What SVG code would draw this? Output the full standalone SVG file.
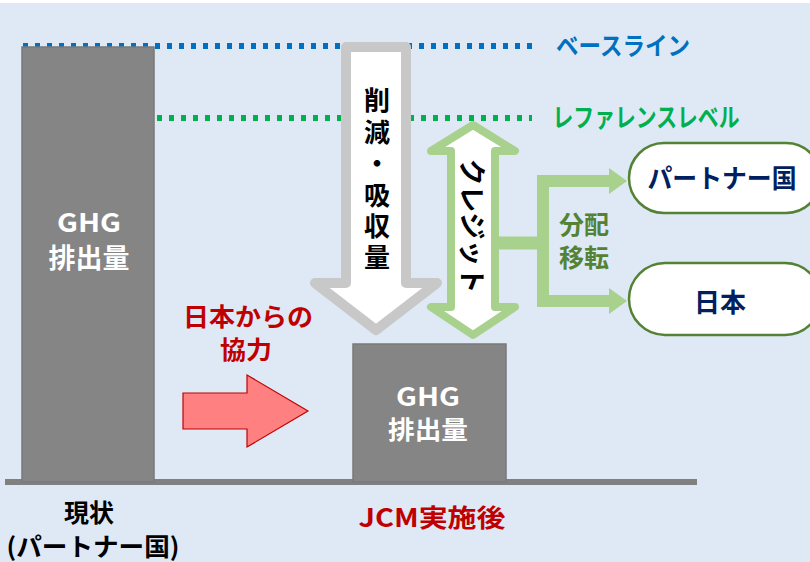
<svg xmlns="http://www.w3.org/2000/svg" width="810" height="562" viewBox="0 0 810 562">
<style>
text{font-family:"Noto Sans CJK JP","Noto Sans",sans-serif;font-weight:bold;text-anchor:middle}
.bar{fill:#858585;stroke:#7a7a7a;stroke-width:1.5}
.white{fill:#ffffff}
.red{fill:#c00000}
.blk{fill:#000000}
.navy{fill:#002060}
.dgreen{fill:#548235}
.conn{fill:none;stroke:#a9d18e}
.head{fill:#a9d18e}
.node{fill:#ffffff;stroke:#548235;stroke-width:2.5}
</style>
<rect x="0" y="0" width="810" height="562" fill="#ffffff"/>
<rect x="0" y="3" width="810" height="559" fill="#dee9f5"/>
<g id="levels">
<line x1="23" y1="46" x2="532" y2="46" stroke="#0070c0" stroke-width="6" stroke-dasharray="5 7"/>
<line x1="157" y1="118" x2="532" y2="118" stroke="#00b050" stroke-width="6" stroke-dasharray="5 7"/>
<text x="623" y="55" font-size="25" fill="#0070c0" textLength="134" lengthAdjust="spacingAndGlyphs">ベースライン</text>
<text x="646" y="127" font-size="26" fill="#00b050" textLength="187" lengthAdjust="spacingAndGlyphs">レファレンスレベル</text>
</g>
<g id="ground"><rect x="5" y="479" width="692" height="6" fill="#808080"/></g>
<g id="bar-current">
<rect class="bar" x="22" y="47" width="132" height="435"/>
<text class="white" x="89" y="232" font-size="26" textLength="64" lengthAdjust="spacingAndGlyphs">GHG</text>
<text class="white" x="89" y="268" font-size="27">排出量</text>
</g>
<g id="bar-after">
<rect class="bar" x="353" y="344" width="153" height="138"/>
<text class="white" font-size="25"><tspan x="428" y="406" textLength="64" lengthAdjust="spacingAndGlyphs">GHG</tspan><tspan x="428" y="439" textLength="80" lengthAdjust="spacingAndGlyphs">排出量</tspan></text>
</g>
<g id="reduction-arrow">
<path d="M346,47 L406,47 L406,283 L437,283 L376,330 L315,283 L346,283 Z" fill="#ffffff" stroke="#c8c8c8" stroke-width="10" stroke-linejoin="round"/>
<text class="blk" x="377" y="179" font-size="26" writing-mode="vertical-rl" textLength="183" lengthAdjust="spacing">削減・吸収量</text>
</g>
<g id="credit-arrow">
<path d="M473,125 L515,151 L495,151 L495,307 L515,307 L473,335 L431,307 L451,307 L451,151 L431,151 Z" fill="#ffffff" stroke="#a9d18e" stroke-width="8" stroke-linejoin="round"/>
<text class="blk" transform="translate(471,226) rotate(90)" y="9" font-size="27" textLength="135" lengthAdjust="spacingAndGlyphs">クレジット</text>
</g>
<g id="connectors">
<path class="conn" d="M495,243 H543" stroke-width="13"/>
<path class="conn" d="M612,181 H543 V301 H612" stroke-width="12"/>
<polygon class="head" points="609,168 627,181 609,194"/>
<polygon class="head" points="609,288 627,301 609,314"/>
</g>
<g id="label-transfer">
<text class="dgreen" font-size="25"><tspan x="584" y="234">分配</tspan><tspan x="584" y="267">移転</tspan></text>
</g>
<g id="node-partner">
<rect class="node" x="629" y="143" width="192" height="70" rx="35"/>
<text class="navy" x="722" y="188" font-size="26" textLength="149" lengthAdjust="spacingAndGlyphs">パートナー国</text>
</g>
<g id="node-japan">
<rect class="node" x="629" y="263" width="192" height="72" rx="36"/>
<text class="navy" x="720" y="312" font-size="26">日本</text>
</g>
<g id="cooperation">
<text class="red" font-size="25"><tspan x="248" y="326" textLength="130" lengthAdjust="spacingAndGlyphs">日本からの</tspan><tspan x="246" y="359" textLength="52" lengthAdjust="spacingAndGlyphs">協力</tspan></text>
<polygon points="183,393 247,393 247,375 308,411 247,447 247,429 183,429" fill="#ff8080" stroke="#c00000" stroke-width="1.2"/>
</g>
<g id="captions">
<text class="blk" font-size="25"><tspan x="89" y="522">現状</tspan><tspan x="93" y="556" textLength="173" lengthAdjust="spacingAndGlyphs">(パートナー国)</tspan></text>
<text class="red" x="432" y="527" font-size="25" textLength="147" lengthAdjust="spacingAndGlyphs">JCM実施後</text>
</g>
</svg>
